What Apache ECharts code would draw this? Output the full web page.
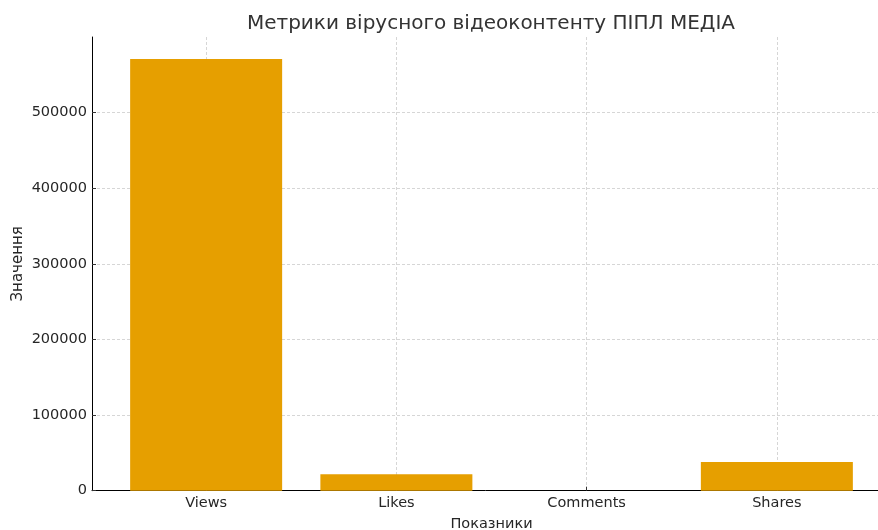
<!DOCTYPE html>
<html>
<head>
<meta charset="utf-8">
<script src="https://cdn.jsdelivr.net/npm/echarts@6/dist/echarts.min.js"></script>
<style>
html,body{margin:0;padding:0;background:#fff;}
#chart{width:878px;height:530px;}
</style>
</head>
<body>
<div id="chart"></div>
<script>
const categories = ['Views', 'Likes', 'Comments', 'Shares'];
const values = [571000, 21700, 0, 38000];
const yTicks = [0, 100000, 200000, 300000, 400000, 500000];
const catPos = [0, 1, 2, 3];

const chart = echarts.init(document.getElementById('chart'), null, {renderer: 'canvas'});
const font = 'DejaVu Sans';
const gridLine = {show: true, lineStyle: {color: '#cccccc', width: 0.8, type: [3, 2]}};

chart.setOption({
  animation: false,
  backgroundColor: '#ffffff',
  title: {
    text: 'Метрики вірусного відеоконтенту ПІПЛ МЕДІА',
    left: 486, top: 9, textAlign: 'center',
    textStyle: {fontFamily: font, fontSize: 20, fontWeight: 'normal', color: '#333333'}
  },
  grid: {left: 92, top: 37, width: 799, height: 453.7, containLabel: false, outerBoundsMode: 'none'},
  xAxis: {
    type: 'value', min: -0.6, max: 3.6,
    name: 'Показники', nameLocation: 'middle', nameGap: 26,
    nameTextStyle: {fontFamily: font, fontSize: 14.5, color: '#262626'},
    axisLine: {show: true, onZero: false, lineStyle: {color: '#000', width: 1}},
    axisTick: {show: true, inside: true, length: 4, customValues: catPos, lineStyle: {color: '#333'}},
    axisLabel: {
      fontFamily: font, fontSize: 14.5, color: '#262626', margin: 5,
      customValues: catPos,
      formatter: v => categories[Math.round(v)] || ''
    },
    splitLine: gridLine
  },
  yAxis: {
    type: 'value', min: 0, max: 600000,
    name: 'Значення', nameLocation: 'middle', nameGap: 66, nameMoveOverlap: false,
    nameTextStyle: {fontFamily: font, fontSize: 15, color: '#262626'},
    axisLine: {show: true, onZero: false, lineStyle: {color: '#000', width: 1}},
    axisTick: {show: true, inside: true, length: 4, customValues: yTicks, lineStyle: {color: '#333'}},
    axisLabel: {
      fontFamily: font, fontSize: 14.5, color: '#262626', margin: 5,
      customValues: yTicks,
      formatter: v => String(v)
    },
    splitLine: gridLine
  },
  series: [{
    type: 'bar',
    barWidth: 152,
    itemStyle: {color: '#E69F00'},
    data: values.map((v, i) => [i, v])
  }]
});
</script>
</body>
</html>
